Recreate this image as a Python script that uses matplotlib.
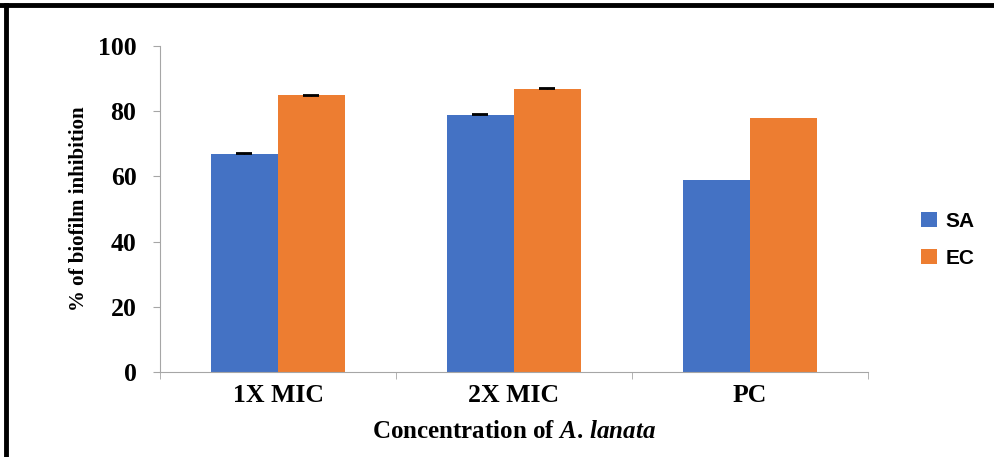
import numpy as np
import matplotlib
matplotlib.use("Agg")
import matplotlib.pyplot as plt
from matplotlib.lines import Line2D

categories = ["1X MIC", "2X MIC", "PC"]
sa_values = [67, 79, 59]
ec_values = [85, 87, 78]
sa_err = [0.15, 0.15, 0]
ec_err = [0.15, 0.15, 0]

plt.rcParams["mathtext.fontset"] = "custom"
plt.rcParams["mathtext.it"] = "Liberation Serif:italic:bold"
plt.rcParams["mathtext.rm"] = "Liberation Serif:bold"

fig = plt.figure(figsize=(9.94, 4.57), dpi=100)
ax = fig.add_axes([0.161, 0.186, 0.712, 0.713])

x = np.arange(len(categories))
w = 0.284
ax.bar(x - w/2, sa_values, w, color="#4472C4", label="SA")
ax.bar(x + w/2, ec_values, w, color="#ED7D31", label="EC")

# error bars only where the reference shows them
has_err = [i for i in range(len(categories)) if sa_err[i] > 0]
ax.errorbar(x[has_err] - w/2, np.array(sa_values)[has_err], yerr=np.array(sa_err)[has_err],
            fmt="none", ecolor="black", capsize=6, elinewidth=1, capthick=1.3)
ax.errorbar(x[has_err] + w/2, np.array(ec_values)[has_err], yerr=np.array(ec_err)[has_err],
            fmt="none", ecolor="black", capsize=6, elinewidth=1, capthick=1.3)

ax.set_xlim(-0.5, 2.5)
ax.set_ylim(0, 100)
ax.set_yticks([0, 20, 40, 60, 80, 100])
ax.set_xticks(x)
ax.set_xticks([-0.5, 0.5, 1.5, 2.5], minor=True)
ax.set_xticklabels(categories, family="Liberation Serif", fontweight="bold", fontsize=18.5)
for lab in ax.get_yticklabels():
    lab.set_family("Liberation Serif")
    lab.set_fontweight("bold")
    lab.set_fontsize(18.5)

ax.tick_params(axis="x", which="major", length=0, pad=9)
ax.tick_params(axis="x", which="minor", length=5, color="#a6a6a6", direction="out")
ax.tick_params(axis="y", length=5, color="#a6a6a6", pad=12)

for s in ["top", "right"]:
    ax.spines[s].set_visible(False)
for s in ["left", "bottom"]:
    ax.spines[s].set_color("#a6a6a6")

ax.set_ylabel("% of biofilm inhibition", family="Liberation Serif", fontweight="bold",
              fontsize=15, labelpad=6)
ax.set_xlabel(r"Concentration of $\mathit{A.\,lanata}$", family="Liberation Serif",
              fontweight="bold", fontsize=18, labelpad=9)

ax.legend(loc="center left", bbox_to_anchor=(0.908, 0.475), bbox_transform=fig.transFigure,
          frameon=False, prop={"family": "Liberation Sans", "weight": "bold", "size": 15},
          handlelength=0.75, handleheight=0.75, handletextpad=0.4, labelspacing=0.85)

# frame lines of the figure image (top and left)
fig.add_artist(Line2D([0, 1], [0.9895, 0.9895], transform=fig.transFigure, color="black", lw=3.5))
fig.add_artist(Line2D([0.0065, 0.0065], [0, 0.99], transform=fig.transFigure, color="black", lw=3.5))

fig.savefig("out.png", dpi=100)
